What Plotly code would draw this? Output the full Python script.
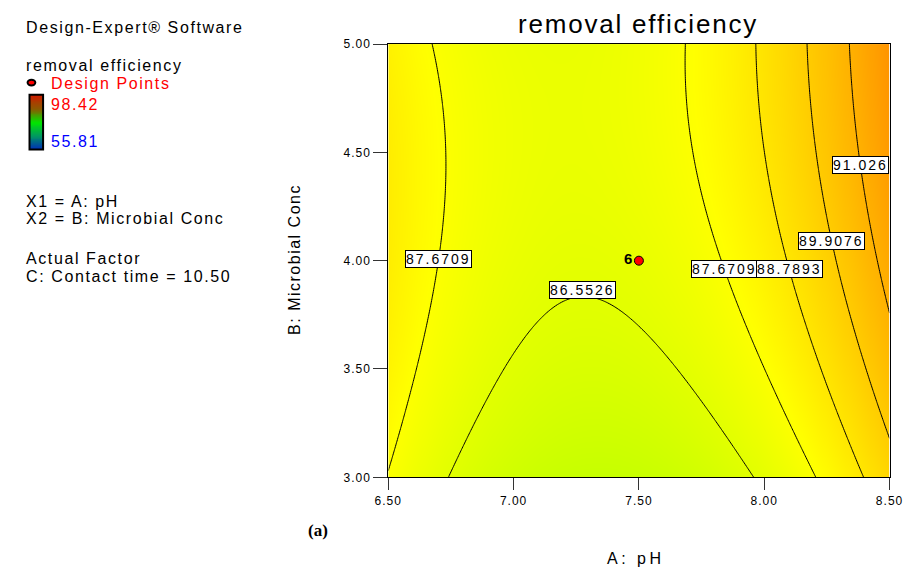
import numpy as np
import plotly.graph_objects as go

# Quadratic response-surface model for removal efficiency in coded units
# (A = pH, B = microbial conc; contact time held at 10.50)
model_terms = ["Intercept", "A", "B", "AB", "A^2", "B^2"]
model_coefs = [86.86, 1.45, 0.86, 0.52, 3.08, -0.52]

ph_center, ph_half = 7.5, 1.0
conc_center, conc_half = 4.0, 1.0
ph_range = [6.5, 8.5]
conc_range = [3.0, 5.0]

response_min, response_max = 55.81, 98.42
contour_levels = [86.5526, 87.6709, 88.7893, 89.9076, 91.026]

# contour label placement: level, microbial conc where the label sits, branch
label_levels = [87.6709, 86.5526, 87.6709, 88.7893, 89.9076, 91.026]
label_conc = [4.01, 3.865, 3.96, 3.96, 4.09, 4.44]
label_branch = ["left", "apex", "right", "right", "right", "right"]

# design point (center point, replicated 6 times)
design_ph = [7.5]
design_conc = [4.0]
design_count = ["6"]

x_ticks = [6.5, 7.0, 7.5, 8.0, 8.5]
y_ticks = [3.0, 3.5, 4.0, 4.5, 5.0]

FONT = "Arial, Liberation Sans, sans-serif"
W, H = 921, 577


def predict(ph, conc):
    a = (ph - ph_center) / ph_half
    b = (conc - conc_center) / conc_half
    c0, c1, c2, c3, c4, c5 = model_coefs
    return c0 + c1 * a + c2 * b + c3 * a * b + c4 * a * a + c5 * b * b


def ph_on_level(level, conc, branch):
    c0, c1, c2, c3, c4, c5 = model_coefs
    b = (conc - conc_center) / conc_half
    qa = c4
    qb = c1 + c3 * b
    qc = c0 + c2 * b + c5 * b * b - level
    if branch == "apex":
        a = -qb / (2 * qa)
    else:
        root = np.sqrt(max(qb * qb - 4 * qa * qc, 0.0))
        a = (-qb + (root if branch == "right" else -root)) / (2 * qa)
    return ph_center + a * ph_half


def spaced(text, px):
    return f'<span style="letter-spacing:{px}px">{text}</span>'


def fx(px):
    return px / W


def fy(py):
    return 1 - py / H


ph_grid = np.linspace(ph_range[0], ph_range[1], 241)
conc_grid = np.linspace(conc_range[0], conc_range[1], 241)
PH, CONC = np.meshgrid(ph_grid, conc_grid)
Z = predict(PH, CONC)

surface_scale = [
    [0.0, "rgb(0,0,255)"],
    [0.5, "rgb(0,255,0)"],
    [0.75, "rgb(255,255,0)"],
    [1.0, "rgb(255,0,0)"],
]

fig = go.Figure()

fig.add_trace(go.Heatmap(
    x=ph_grid, y=conc_grid, z=Z,
    zmin=response_min, zmax=response_max,
    colorscale=surface_scale, zsmooth="best", showscale=False,
    hoverinfo="skip",
))

step = contour_levels[1] - contour_levels[0]
fig.add_trace(go.Contour(
    x=ph_grid, y=conc_grid, z=Z,
    contours=dict(start=contour_levels[0], end=contour_levels[-1] + 1e-6,
                  size=step, coloring="none", showlabels=False),
    line=dict(color="black", width=1),
    showscale=False, hoverinfo="skip",
))

fig.add_trace(go.Scatter(
    x=design_ph, y=design_conc, mode="markers+text",
    text=[f"<b>{c}</b>" for c in design_count],
    textposition="middle left",
    textfont=dict(family=FONT, size=15, color="black"),
    marker=dict(color="red", size=9, line=dict(color="black", width=1)),
    hoverinfo="skip", showlegend=False,
))

# small colour bar for the response legend
legend_vals = np.linspace(response_min, response_max, 60).reshape(-1, 1)
fig.add_trace(go.Heatmap(
    z=legend_vals, x=[0], y=np.linspace(0, 1, 60),
    zmin=response_min, zmax=response_max,
    colorscale=[
        [0.0, "rgb(0,40,190)"],
        [0.25, "rgb(0,150,100)"],
        [0.5, "rgb(0,230,0)"],
        [0.75, "rgb(140,90,0)"],
        [1.0, "rgb(205,30,0)"],
    ],
    zsmooth="best", showscale=False, hoverinfo="skip",
    xaxis="x2", yaxis="y2",
))

plot_left, plot_right, plot_top, plot_bottom = 386, 903, 38, 482

annotations = []
for lvl, cval, br in zip(label_levels, label_conc, label_branch):
    annotations.append(dict(
        x=ph_on_level(lvl, cval, br), y=cval, xref="x", yref="y",
        text=spaced(f"{lvl:g}", 2), showarrow=False,
        font=dict(family=FONT, size=14, color="black"),
        bgcolor="white", bordercolor="black", borderwidth=1, borderpad=0,
        xanchor="center", yanchor="middle",
    ))

left_texts = [
    ("Design-Expert® Software", 20.5, "black"),
    ("removal efficiency", 59.5, "black"),
    ("Design Points", 78.5, "red"),
    ("98.42", 99.5, "red"),
    ("55.81", 137.5, "blue"),
    ("X1 = A: pH", 199.5, "black"),
    ("X2 = B: Microbial Conc", 216.5, "black"),
    ("Actual Factor", 257.5, "black"),
    ("C: Contact time = 10.50", 276.5, "black"),
]
for txt, yy, col in left_texts:
    xx = 36 if txt in ("Design Points", "98.42", "55.81") else 10
    annotations.append(dict(
        x=fx(xx), y=fy(yy), xref="paper", yref="paper",
        text=spaced(txt, 1.6), showarrow=False,
        font=dict(family=FONT, size=16, color=col),
        xanchor="left", yanchor="middle",
    ))

annotations += [
    dict(x=fx(644), y=fy(17), xref="paper", yref="paper",
         text=spaced("removal efficiency", 1.8), showarrow=False,
         font=dict(family=FONT, size=26, color="black"),
         xanchor="center", yanchor="middle"),
    dict(x=fx(290), y=fy(259), xref="paper", yref="paper",
         text=spaced("B: Microbial Conc", 1.5), showarrow=False, textangle=-90,
         font=dict(family=FONT, size=16, color="black"),
         xanchor="center", yanchor="middle"),
    dict(x=fx(642), y=fy(565), xref="paper", yref="paper",
         text=spaced("A: pH", 3.5), showarrow=False,
         font=dict(family=FONT, size=16, color="black"),
         xanchor="center", yanchor="middle"),
    dict(x=fx(314), y=fy(537), xref="paper", yref="paper",
         text="<b>(a)</b>", showarrow=False,
         font=dict(family="Times New Roman, Liberation Serif, serif", size=17, color="black"),
         xanchor="center", yanchor="middle"),
]

shapes = [
    # legend bar frame
    dict(type="rect", xref="paper", yref="paper",
         x0=fx(16), x1=fx(30), y0=fy(146), y1=fy(90),
         line=dict(color="black", width=2)),
    # design point legend symbol
    dict(type="circle", xref="paper", yref="paper",
         x0=fx(14), x1=fx(22), y0=fy(80.5), y1=fy(74.5),
         fillcolor="red", line=dict(color="black", width=2)),
]

tick_font = dict(family=FONT, size=12, color="black")

fig.update_layout(
    width=W, height=H,
    margin=dict(l=0, r=0, t=0, b=0),
    paper_bgcolor="white", plot_bgcolor="white",
    showlegend=False,
    xaxis=dict(
        domain=[fx(plot_left), fx(plot_right)], range=ph_range,
        tickvals=x_ticks, ticktext=[spaced(f"{v:.2f}", 1) for v in x_ticks],
        ticks="outside", ticklen=12, tickcolor="#333", tickwidth=1,
        showline=True, linecolor="black", linewidth=1, mirror=True,
        showgrid=False, zeroline=False, tickfont=tick_font,
        anchor="y",
    ),
    yaxis=dict(
        domain=[fy(plot_bottom), fy(plot_top)], range=conc_range,
        tickvals=y_ticks, ticktext=[spaced(f"{v:.2f}", 1) for v in y_ticks],
        ticks="outside", ticklen=14, tickcolor="#333", tickwidth=1,
        showline=True, linecolor="black", linewidth=1, mirror=True,
        showgrid=False, zeroline=False, tickfont=tick_font,
        anchor="x",
    ),
    xaxis2=dict(domain=[fx(16), fx(30)], range=[-0.5, 0.5], visible=False,
                anchor="y2", fixedrange=True),
    yaxis2=dict(domain=[fy(146), fy(90)], range=[0, 1], visible=False,
                anchor="x2", fixedrange=True),
    annotations=annotations,
    shapes=shapes,
)

fig.write_html("out.html")
